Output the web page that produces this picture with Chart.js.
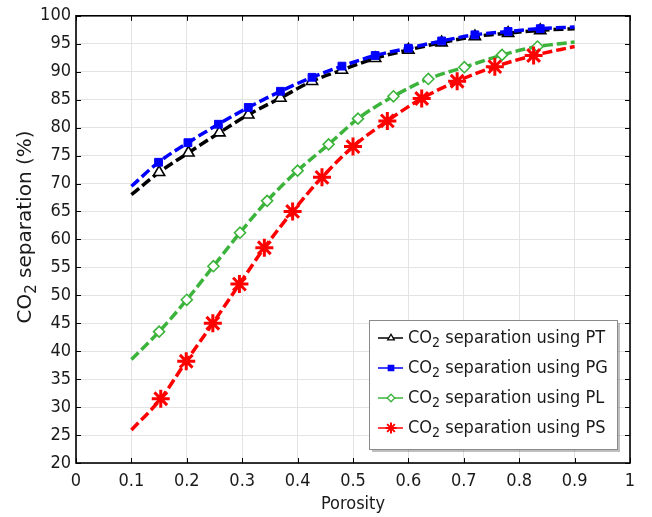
<!DOCTYPE html>
<html>
<head>
<meta charset="utf-8">
<script src="https://cdn.jsdelivr.net/npm/chart.js@4.4.1/dist/chart.umd.min.js"></script>
<style>
html, body { margin: 0; padding: 0; background: #fff; }
#wrap { width: 652px; height: 517px; }
</style>
</head>
<body>
<div id="wrap"><canvas id="c" width="652" height="517"></canvas></div>
<script>
// Values (porosity vs CO2 separation %)
const ptX = [0.1, 0.15, 0.203, 0.259, 0.311, 0.369, 0.426, 0.48, 0.54, 0.60, 0.66, 0.72, 0.78, 0.838, 0.9];
const ptY = [68.0, 72.0, 75.5, 79.1, 82.3, 85.3, 88.3, 90.3, 92.4, 93.9, 95.2, 96.3, 96.9, 97.4, 97.7];

const pgX = [0.1, 0.149, 0.202, 0.257, 0.311, 0.369, 0.426, 0.48, 0.54, 0.60, 0.66, 0.72, 0.78, 0.838, 0.9];
const pgY = [69.5, 73.8, 77.3, 80.6, 83.6, 86.5, 89.0, 91.0, 92.9, 94.2, 95.5, 96.6, 97.2, 97.7, 98.0];

const plX = [0.1, 0.150, 0.200, 0.248, 0.296, 0.345, 0.40, 0.456, 0.509, 0.573, 0.636, 0.701, 0.769, 0.833, 0.9];
const plY = [38.5, 43.5, 49.2, 55.2, 61.2, 66.9, 72.3, 77.0, 81.6, 85.6, 88.7, 90.8, 93.0, 94.5, 95.3];

const psX = [0.1, 0.153, 0.199, 0.247, 0.295, 0.340, 0.391, 0.444, 0.500, 0.562, 0.624, 0.688, 0.756, 0.826, 0.9];
const psY = [25.9, 31.5, 38.2, 45.0, 52.0, 58.5, 65.0, 71.1, 76.6, 81.2, 85.2, 88.3, 90.9, 92.9, 94.5];

const seriesNames = ["PT", "PG", "PL", "PS"];

const FONT = '"DejaVu Sans Condensed", "DejaVu Sans", sans-serif';
const TITLE_FONT = '"DejaVu Sans", sans-serif';
const TXT = "#1a1a1a";

function pts(xs, ys) {
  return xs.map((x, i) => ({ x: x, y: ys[i] }));
}

// markers only on interior points, line ends are bare
function radii(xs, r) {
  return xs.map((_, i) => (i === 0 || i === xs.length - 1 ? 0 : r));
}

function series(name, xs, ys, color, style, r, fill, bw, order) {
  return {
    label: "CO2 separation using " + name,
    data: pts(xs, ys),
    order: order,
    showLine: true,
    borderColor: color,
    borderWidth: 3.5,
    borderDash: [10, 4],
    cubicInterpolationMode: "monotone",
    pointStyle: style,
    pointRadius: radii(xs, r),
    pointHoverRadius: radii(xs, r),
    pointBackgroundColor: fill,
    pointBorderColor: color,
    pointBorderWidth: bw,
  };
}

const datasets = [
  series(seriesNames[0], ptX, ptY, "#000000", "triangle", 6.5, "#ffffff", 1.6, 4),
  series(seriesNames[1], pgX, pgY, "#0000ff", "rect", 5.5, "#0000ff", 1, 3),
  series(seriesNames[2], plX, plY, "#3cb43c", "rectRot", 5.5, "#ffffff", 1.6, 2),
  series(seriesNames[3], psX, psY, "#ff0000", "star", 9, "#ff0000", 3, 1),
];

// draws inward ticks, the frame, y title and the legend box
const framePlugin = {
  id: "frame",
  afterDraw(chart) {
    const ctx = chart.ctx;
    const a = chart.chartArea;
    const x = chart.scales.x;
    const y = chart.scales.y;
    ctx.save();
    ctx.setLineDash([]);
    ctx.strokeStyle = "#000";
    ctx.lineWidth = 1;
    ctx.beginPath();
    x.ticks.forEach((t) => {
      const px = Math.round(x.getPixelForValue(t.value)) + 0.5;
      ctx.moveTo(px, a.bottom); ctx.lineTo(px, a.bottom - 5);
      ctx.moveTo(px, a.top); ctx.lineTo(px, a.top + 5);
    });
    y.ticks.forEach((t) => {
      const py = Math.round(y.getPixelForValue(t.value)) + 0.5;
      ctx.moveTo(a.left, py); ctx.lineTo(a.left + 5, py);
      ctx.moveTo(a.right, py); ctx.lineTo(a.right - 5, py);
    });
    ctx.stroke();
    ctx.lineWidth = 1.6;
    ctx.strokeRect(a.left, a.top, a.right - a.left, a.bottom - a.top);

    // y axis title with subscript
    ctx.fillStyle = TXT;
    ctx.save();
    ctx.translate(26, 227);
    ctx.rotate(-Math.PI / 2);
    drawCO2(ctx, " separation (%)", 0, 0, "center", TITLE_FONT, 20, 15);
    ctx.restore();

    // legend
    const lx = 369, ly = 320, lw = 248, lh = 129;
    ctx.fillStyle = "rgba(0,0,0,0.25)";
    ctx.fillRect(lx + 3, ly + 3, lw, lh);
    ctx.fillStyle = "#fff";
    ctx.fillRect(lx, ly, lw, lh);
    ctx.strokeStyle = "#8a8a8a";
    ctx.lineWidth = 1;
    ctx.strokeRect(lx + 0.5, ly + 0.5, lw, lh);

    chart.data.datasets.forEach((ds, i) => {
      const cy = 338 + i * 30;
      ctx.strokeStyle = ds.borderColor;
      ctx.lineWidth = 1.5;
      ctx.beginPath();
      ctx.moveTo(378, cy); ctx.lineTo(403, cy);
      ctx.stroke();
      ctx.fillStyle = ds.pointBackgroundColor;
      ctx.strokeStyle = ds.borderColor;
      ctx.lineWidth = ds.pointStyle === "star" ? 2 : 1.3;
      Chart.helpers.drawPoint(ctx, {
        pointStyle: ds.pointStyle,
        radius: ds.pointStyle === "star" ? 5.5 : 3.8,
        rotation: 0,
        borderWidth: ctx.lineWidth,
      }, 391, cy);
      ctx.fillStyle = TXT;
      drawCO2(ctx, " separation using " + seriesNames[i], 408, cy, "left", FONT, 18, 14);
    });
    ctx.restore();
  },
};

function drawCO2(ctx, rest, x, y, align, family, size, subSize) {
  const big = size + "px " + family;
  const small = subSize + "px " + family;
  ctx.textBaseline = "middle";
  ctx.textAlign = "left";
  ctx.font = big;
  const wCO = ctx.measureText("CO").width;
  const wRest = ctx.measureText(rest).width;
  ctx.font = small;
  const w2 = ctx.measureText("2").width;
  const total = wCO + w2 + wRest;
  const sx = align === "center" ? x - total / 2 : x;
  ctx.font = big;
  ctx.fillText("CO", sx, y);
  ctx.font = small;
  ctx.fillText("2", sx + wCO, y + size * 0.3);
  ctx.font = big;
  ctx.fillText(rest, sx + wCO + w2, y);
}

new Chart(document.getElementById("c"), {
  type: "scatter",
  data: { datasets: datasets },
  options: {
    responsive: false,
    animation: false,
    events: [],
    layout: { padding: { left: 0, top: 14, right: 22, bottom: 0 } },
    plugins: { legend: { display: false }, tooltip: { enabled: false } },
    scales: {
      x: {
        type: "linear",
        min: 0,
        max: 1,
        border: { display: false },
        grid: { color: "#e3e3e3", lineWidth: 1, drawTicks: false },
        ticks: {
          stepSize: 0.1,
          padding: 8,
          color: TXT,
          font: { family: FONT, size: 18 },
          callback: (v) => String(Math.round(v * 10) / 10),
        },
        title: { display: true, text: "Porosity", color: TXT, padding: { top: 0, bottom: 2 }, font: { family: FONT, size: 18 } },
        afterFit(scale) { scale.height = 54; },
      },
      y: {
        type: "linear",
        min: 20,
        max: 100,
        border: { display: false },
        grid: { color: "#e3e3e3", lineWidth: 1, drawTicks: false },
        ticks: { stepSize: 5, padding: 5, color: TXT, font: { family: FONT, size: 18 } },
        afterFit(scale) { scale.width = 76; },
      },
    },
  },
  plugins: [framePlugin],
});
</script>
</body>
</html>
